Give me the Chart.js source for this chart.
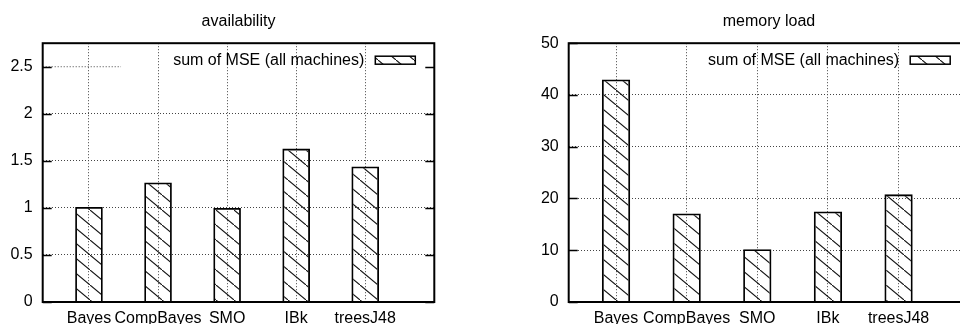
<!DOCTYPE html>
<html>
<head>
<meta charset="utf-8">
<script src="https://cdn.jsdelivr.net/npm/chart.js@4/dist/chart.umd.min.js"></script>
<style>
  html, body { margin: 0; padding: 0; background: #fff; }
  body { width: 960px; height: 324px; overflow: hidden; position: relative; }
  .box { position: absolute; top: 0; height: 324px; }
</style>
</head>
<body>
<div class="box" style="left:0;width:480px"><canvas id="graficoDisp"></canvas></div>
<div class="box" style="left:526px;width:460px"><canvas id="graficoMem"></canvas></div>
<script>
// datos
const categorias = ['Bayes', 'CompBayes', 'SMO', 'IBk', 'treesJ48'];
const disponibilidad = [1.01, 1.27, 1.0, 1.63, 1.44];
const cargaMemoria = [43.0, 17.1, 10.2, 17.5, 20.8];
const ticksDisp = [0, 0.5, 1, 1.5, 2, 2.5];
const ticksMem = [0, 10, 20, 30, 40, 50];
const nombreSerie = 'sum of MSE (all machines)';

Chart.defaults.font.family = '"Liberation Sans", Arial, sans-serif';
Chart.defaults.font.size = 16;
Chart.defaults.color = '#000';

// trama de rayas diagonales tipo gnuplot
function crearRayado() {
    const c = document.createElement('canvas');
    c.width = 18;
    c.height = 15;
    const g = c.getContext('2d');
    g.strokeStyle = '#111';
    g.lineWidth = 1.1;
    g.beginPath();
    g.moveTo(-2, -15 * 2 / 18);
    g.lineTo(20, 15 + 15 * 2 / 18);
    g.stroke();
    return g.createPattern(c, 'repeat');
}
const rayado = crearRayado();

// marco, marcas internas y leyenda
const marcoGnuplot = {
    id: 'marcoGnuplot',
    beforeDatasetsDraw(chart, args, opts) {
        if (opts.corte == null) return;
        const {ctx, chartArea: a, scales: {y}} = chart;
        const py = y.getPixelForValue(opts.corte);
        ctx.save();
        ctx.strokeStyle = '#444';
        ctx.lineWidth = 1;
        ctx.setLineDash([1, 2]);
        ctx.beginPath();
        ctx.moveTo(a.left, py);
        ctx.lineTo(a.left + (a.right - a.left) * opts.corteFrac, py);
        ctx.stroke();
        ctx.restore();
    },
    afterDatasetsDraw(chart) {
        const {ctx, chartArea: a, scales: {y}} = chart;
        ctx.save();
        ctx.strokeStyle = '#000';
        ctx.lineWidth = 1.5;
        ctx.beginPath();
        y.ticks.forEach(t => {
            const py = Math.round(y.getPixelForValue(t.value)) + 0.5;
            ctx.moveTo(a.left, py);
            ctx.lineTo(a.left + 9, py);
            ctx.moveTo(a.right - 9, py);
            ctx.lineTo(a.right, py);
        });
        ctx.stroke();
        ctx.lineWidth = 2;
        ctx.strokeRect(a.left, a.top, a.right - a.left, a.bottom - a.top);

        // leyenda
        ctx.font = '16px "Liberation Sans", Arial, sans-serif';
        ctx.fillStyle = '#000';
        ctx.textAlign = 'right';
        ctx.textBaseline = 'middle';
        ctx.fillText(chart.data.datasets[0].label, a.right - 70, a.top + 17);
        ctx.fillStyle = rayado;
        ctx.fillRect(a.right - 59, a.top + 13, 40, 8);
        ctx.lineWidth = 1.5;
        ctx.strokeRect(a.right - 59, a.top + 13, 40, 8);
        ctx.restore();
    }
};

function crearGrafico(id, titulo, valores, marcas, maximo, padDer, corte) {
    const ctx = document.getElementById(id).getContext('2d');
    return new Chart(ctx, {
        type: 'bar',
        data: {
            datasets: [{
                label: nombreSerie,
                data: categorias.map((c, i) => ({x: i, y: valores[i]})),
                backgroundColor: rayado,
                borderColor: '#000',
                borderWidth: 1.8,
                categoryPercentage: 1,
                barPercentage: 0.4
            }]
        },
        options: {
            responsive: true,
            maintainAspectRatio: false,
            animation: false,
            layout: { padding: { left: 0, right: padDer, top: 0, bottom: 0 } },
            plugins: {
                legend: { display: false },
                tooltip: { enabled: false },
                title: {
                    display: true,
                    text: titulo,
                    fullSize: false,
                    color: '#000',
                    font: { size: 16, weight: 'normal' },
                    padding: { top: 12, bottom: 12 }
                },
                marcoGnuplot: corte
            },
            scales: {
                x: {
                    type: 'linear',
                    offset: false,
                    min: -0.67,
                    max: 5,
                    afterBuildTicks: s => { s.ticks = categorias.map((c, i) => ({value: i})); },
                    afterFit: s => { s.height = 22; },
                    ticks: {
                        autoSkip: false,
                        maxRotation: 0,
                        padding: 7,
                        callback: v => categorias[v]
                    },
                    grid: { offset: false, color: '#444', lineWidth: 1, drawTicks: false },
                    border: { display: false, dash: [1, 2] }
                },
                y: {
                    min: 0,
                    max: maximo,
                    afterBuildTicks: s => { s.ticks = marcas.map(v => ({value: v})); },
                    afterFit: s => { s.width = 42.7; },
                    ticks: {
                        padding: 10,
                        callback: v => String(v)
                    },
                    grid: {
                        color: c => (corte.corte != null && c.tick && c.tick.value === corte.corte) ? 'rgba(0,0,0,0)' : '#444',
                        lineWidth: 1,
                        drawTicks: false
                    },
                    border: { display: false, dash: [1, 2] }
                }
            }
        },
        plugins: [marcoGnuplot]
    });
}

crearGrafico('graficoDisp', 'availability', disponibilidad, ticksDisp, 2.75, 45.7, {corte: 2.5, corteFrac: 0.2});
crearGrafico('graficoMem', 'memory load', cargaMemoria, ticksMem, 50, 16.8, {corte: null});
</script>
</body>
</html>
